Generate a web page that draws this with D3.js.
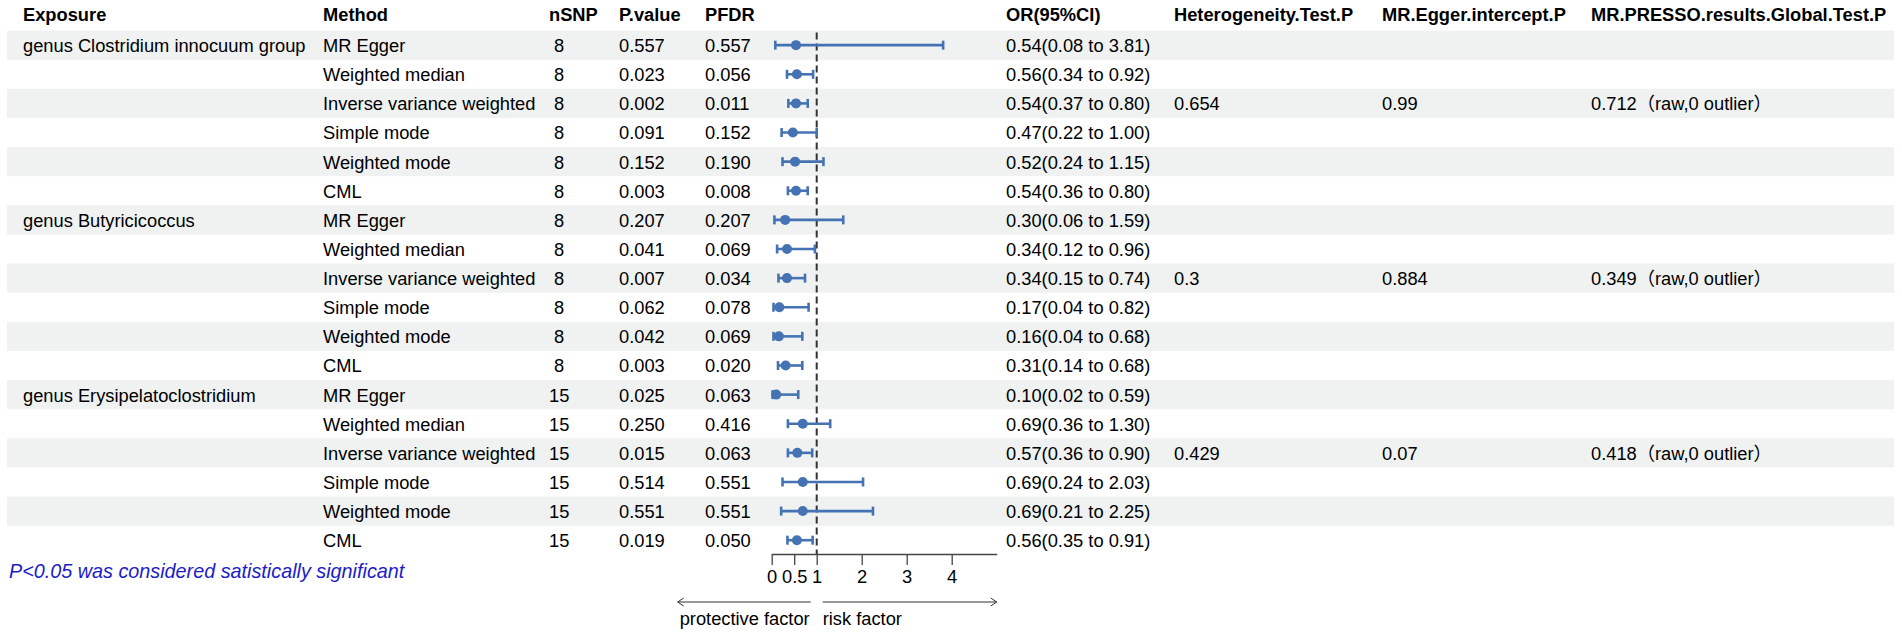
<!DOCTYPE html>
<html>
<head>
<meta charset="utf-8">
<script src="https://cdn.jsdelivr.net/npm/d3@7"></script>
<style>
  body { margin: 0; background: #fff; }
  svg text { font-family: "Liberation Sans", Arial, "Noto Sans CJK SC", sans-serif; white-space: pre; }
</style>
</head>
<body>
<div id="chart"></div>
<script>
const exposures = ['genus Clostridium innocuum group', 'genus Butyricicoccus', 'genus Erysipelatoclostridium'];
const methods = ['MR Egger', 'Weighted median', 'Inverse variance weighted', 'Simple mode', 'Weighted mode', 'CML'];
const nSNP = [8, 8, 8, 8, 8, 8, 8, 8, 8, 8, 8, 8, 15, 15, 15, 15, 15, 15];
const pValue = ['0.557', '0.023', '0.002', '0.091', '0.152', '0.003', '0.207', '0.041', '0.007', '0.062', '0.042', '0.003',
                '0.025', '0.250', '0.015', '0.514', '0.551', '0.019'];
const pFDR = ['0.557', '0.056', '0.011', '0.152', '0.190', '0.008', '0.207', '0.069', '0.034', '0.078', '0.069', '0.020',
              '0.063', '0.416', '0.063', '0.551', '0.551', '0.050'];
const or = [0.54, 0.56, 0.54, 0.47, 0.52, 0.54, 0.30, 0.34, 0.34, 0.17, 0.16, 0.31, 0.10, 0.69, 0.57, 0.69, 0.69, 0.56];
const lower = [0.08, 0.34, 0.37, 0.22, 0.24, 0.36, 0.06, 0.12, 0.15, 0.04, 0.04, 0.14, 0.02, 0.36, 0.36, 0.24, 0.21, 0.35];
const upper = [3.81, 0.92, 0.80, 1.00, 1.15, 0.80, 1.59, 0.96, 0.74, 0.82, 0.68, 0.68, 0.59, 1.30, 0.90, 2.03, 2.25, 0.91];
// tests are reported only on the IVW row of each exposure
const heterogeneity = ['0.654', '0.3', '0.429'];
const eggerIntercept = ['0.99', '0.884', '0.07'];
const presso = ['0.712', '0.349', '0.418'];
const axisTicks = [0, 0.5, 1, 2, 3, 4];

const W = 1902, H = 636;
const rowTop = 30.6, rowH = 29.12;
const fs = 18.3;
const blue = '#4572b2';

// build one record per row
const rows = [];
exposures.forEach((ex, g) => {
  methods.forEach((m, j) => {
    const i = g * methods.length + j;
    const ivw = m === 'Inverse variance weighted';
    rows.push({
      exposure: j === 0 ? ex : '',
      method: m,
      nsnp: (nSNP[i] < 10 ? ' ' : '') + nSNP[i],
      p: pValue[i],
      fdr: pFDR[i],
      or: or[i], lo: lower[i], hi: upper[i],
      orText: `${or[i].toFixed(2)}(${lower[i].toFixed(2)} to ${upper[i].toFixed(2)})`,
      het: ivw ? heterogeneity[g] : '',
      egger: ivw ? eggerIntercept[g] : '',
      presso: ivw ? presso[g] + '（raw,0 outlier）' : ''
    });
  });
});

const columns = [
  { head: 'Exposure', x: 23, key: 'exposure' },
  { head: 'Method', x: 323, key: 'method' },
  { head: 'nSNP', x: 549, key: 'nsnp' },
  { head: 'P.value', x: 619, key: 'p' },
  { head: 'PFDR', x: 705, key: 'fdr' },
  { head: 'OR(95%CI)', x: 1006, key: 'orText' },
  { head: 'Heterogeneity.Test.P', x: 1174, key: 'het' },
  { head: 'MR.Egger.intercept.P', x: 1382, key: 'egger' },
  { head: 'MR.PRESSO.results.Global.Test.P', x: 1591, key: 'presso' }
];

const svg = d3.select('#chart').append('svg')
  .attr('width', W).attr('height', H)
  .attr('viewBox', `0 0 ${W} ${H}`);

const y = d3.scaleBand()
  .domain(d3.range(rows.length))
  .range([rowTop, rowTop + rowH * rows.length]);
const cy = i => y(i) + y.bandwidth() / 2;

const x = d3.scaleLinear().domain([0, 5]).range([771.7, 996.7]);

// zebra stripes
svg.append('g')
  .selectAll('rect')
  .data(d3.range(0, rows.length, 2))
  .join('rect')
  .attr('x', 7).attr('width', 1887)
  .attr('y', i => y(i)).attr('height', y.bandwidth())
  .attr('fill', '#eff2f1');

// header
svg.append('g')
  .selectAll('text')
  .data(columns)
  .join('text')
  .attr('x', c => c.x).attr('y', 21)
  .attr('font-size', fs).attr('font-weight', 'bold')
  .text(c => c.head);

// body cells
const body = svg.append('g');
columns.forEach(c => {
  body.append('g')
    .selectAll('text')
    .data(rows)
    .join('text')
    .attr('x', c.x)
    .attr('y', (d, i) => cy(i))
    .attr('dy', '0.38em')
    .attr('font-size', fs)
    .text(d => d[c.key]);
});

// reference line at OR = 1
svg.append('line')
  .attr('x1', x(1)).attr('x2', x(1))
  .attr('y1', rowTop + 2).attr('y2', 554)
  .attr('stroke', '#333').attr('stroke-width', 2)
  .attr('stroke-dasharray', '7,4');

// confidence intervals
const ci = svg.append('g').attr('stroke', blue).attr('stroke-width', 2.6);
ci.selectAll('line.ci')
  .data(rows).join('line').attr('class', 'ci')
  .attr('x1', d => x(d.lo)).attr('x2', d => x(d.hi))
  .attr('y1', (d, i) => cy(i))
  .attr('y2', (d, i) => cy(i));
['lo', 'hi'].forEach(k => {
  ci.selectAll('line.cap-' + k)
    .data(rows).join('line').attr('class', 'cap-' + k)
    .attr('x1', d => x(d[k])).attr('x2', d => x(d[k]))
    .attr('y1', (d, i) => cy(i) - 4.5)
    .attr('y2', (d, i) => cy(i) + 4.5);
});
svg.append('g')
  .selectAll('circle')
  .data(rows).join('circle')
  .attr('cx', d => x(d.or))
  .attr('cy', (d, i) => cy(i))
  .attr('r', 5)
  .attr('fill', blue);

// x axis
const axis = svg.append('g')
  .attr('transform', 'translate(0,554)')
  .call(d3.axisBottom(x).tickValues(axisTicks).tickFormat(d3.format('')).tickSize(11).tickSizeOuter(0).tickPadding(5));
axis.selectAll('path, line').attr('stroke', '#444').attr('stroke-width', 1.3);
axis.selectAll('text').attr('font-size', fs).attr('fill', '#000')
  .style('font-family', '"Liberation Sans", Arial, sans-serif');

// direction arrows
const arrowY = 602;
const arr = svg.append('g').attr('stroke', '#333').attr('stroke-width', 1).attr('fill', 'none');
arr.append('path').attr('d', `M${x(1) - 6},${arrowY}H${x(0) - 94}m6,-4l-6,4l6,4`);
arr.append('path').attr('d', `M${x(1) + 6},${arrowY}H${x(5)}m-6,-4l6,4l-6,4`);
svg.append('text')
  .attr('x', x(1) - 7).attr('y', 625).attr('text-anchor', 'end')
  .attr('font-size', fs).text('protective factor');
svg.append('text')
  .attr('x', x(1) + 6).attr('y', 625)
  .attr('font-size', fs).text('risk factor');

// footnote
svg.append('text')
  .attr('x', 9).attr('y', 578)
  .attr('font-size', 19.8).attr('font-style', 'italic')
  .attr('fill', '#1c1cc8')
  .text('P<0.05 was considered satistically significant');
</script>
</body>
</html>
